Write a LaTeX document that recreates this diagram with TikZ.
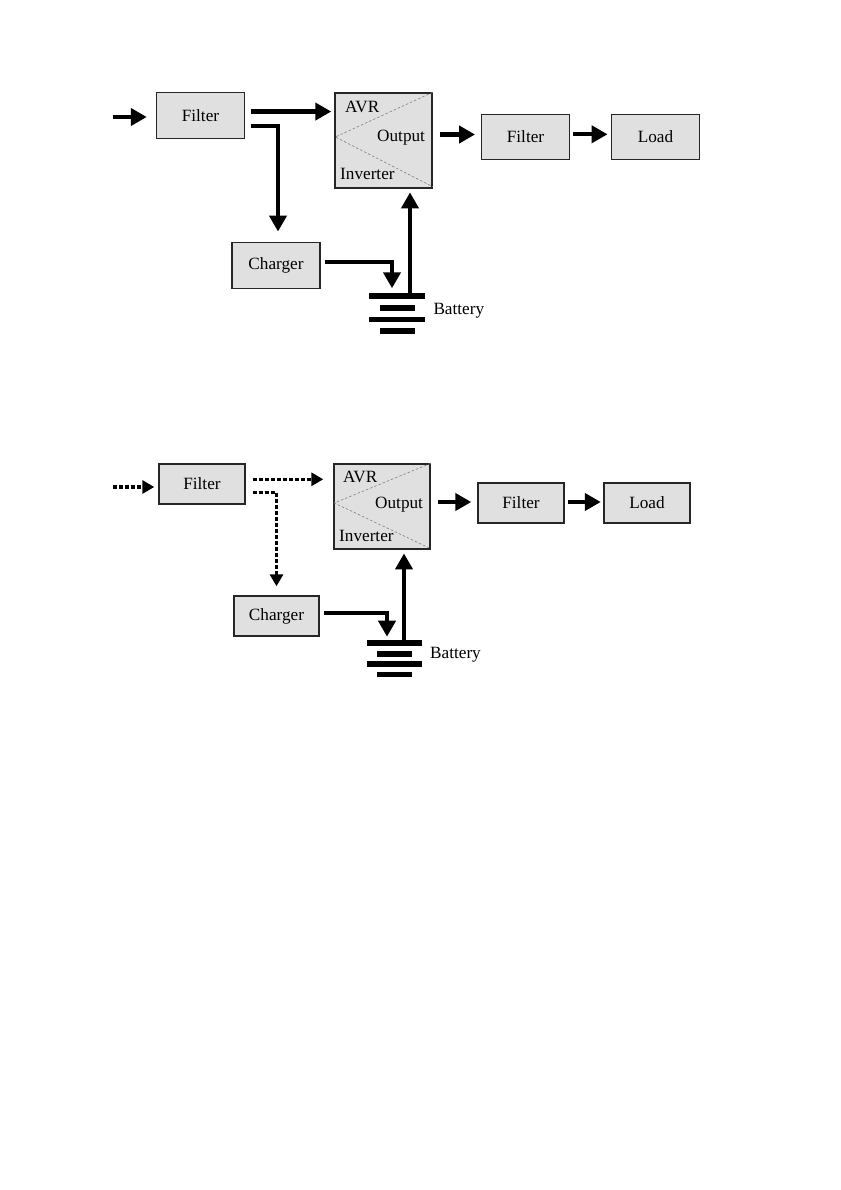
\documentclass[tikz,border=0pt]{standalone}
\usepackage{fontspec}
\setmainfont{Liberation Serif}
\usetikzlibrary{arrows.meta,calc}
\begin{document}
\begin{tikzpicture}[x=1pt,y=-1pt,
  txt/.style={font=\fontsize{17.2}{19}\selectfont},
  box/.style={txt,draw=black!85,line width=1.4pt,fill=black!12,inner sep=0pt},
  lbl/.style={txt,inner sep=0pt,anchor=base west},
  flow/.style={line width=4.2pt,line join=miter,-{Triangle[length=16pt,width=17pt]}},
  dflow/.style={line width=3.3pt,line join=miter,dash pattern=on 4pt off 2pt,-{Triangle[length=12pt,width=13pt]}},
  diagline/.style={gray,dash pattern=on 2.5pt off 2pt,line width=0.6pt},
  plate/.style={fill=black,draw=none}]
\useasboundingbox (0,0) rectangle (840,1190);

% ================= Diagram 1 =================
\node[box,minimum width=88pt,minimum height=45.5pt] (f1) at (200.5,115.5) {Filter};
\node[box,minimum width=97pt,minimum height=95pt] (a1) at (383.5,140.5) {};
\node[box,minimum width=87.5pt,minimum height=45.5pt] (f2) at (525.5,137) {Filter};
\node[box,minimum width=87.5pt,minimum height=45.5pt] (l1) at (655.5,137) {Load};
\node[box,minimum width=88pt,minimum height=45.5pt] (c1) at (276,265.5) {Charger};

\draw[diagline] (a1.north east) -- ($(a1.west)+(1,-3.5)$) -- ($(a1.south east)+(0,-2)$);
\node[lbl] (avr1) at (345,113) {AVR};
\node[lbl] (out1) at (377,142) {Output};
\node[lbl] (inv1) at (340,180) {Inverter};

% battery 1
\fill[plate] (369.3,293.3) rectangle (425,299);
\fill[plate] (380,305) rectangle (415,310.7);
\fill[plate] (369.3,316.7) rectangle (425,322.3);
\fill[plate] (380,328.3) rectangle (415,334.3);
\coordinate (b1in) at (392,293.3);
\coordinate (b1out) at (410,293.3);
\node[lbl] (bl1) at (433.3,314.3) {Battery};

\coordinate (i1) at (113,117);
\draw[flow,shorten >=9pt] (i1) -- (i1 -| f1.west);
\coordinate (s1) at ($(f1.north east)+(5.5,19.5)$);
\draw[flow,shorten >=3pt] (s1) -- (s1 -| a1.west);
\draw[flow,shorten >=10.5pt] ($(f1.north east)+(5.5,34)$) -| ($(c1.north)+(2,0)$);
\draw[flow,shorten >=5pt] ($(c1.east)+(4,-3.5)$) -| (b1in);
\draw[flow,shorten >=3.7pt] (b1out) -- (b1out |- a1.south);
\coordinate (s2) at ($(a1.east |- f2.west)+(7.5,-2.5)$);
\draw[flow,shorten >=6pt] (s2) -- (s2 -| f2.west);
\coordinate (s3) at ($(f2.east)+(3.5,-2.7)$);
\draw[flow,shorten >=3.5pt] (s3) -- (s3 -| l1.west);

% ================= Diagram 2 =================
\node[box,minimum width=86pt,minimum height=40pt] (g1) at (202,484) {Filter};
\node[box,minimum width=96pt,minimum height=85pt] (a2) at (382,506.5) {};
\node[box,minimum width=86pt,minimum height=40pt] (g2) at (521,503) {Filter};
\node[box,minimum width=86pt,minimum height=40pt] (l2) at (647,503) {Load};
\node[box,minimum width=85pt,minimum height=40pt] (c2) at (276.5,616) {Charger};

\draw[diagline] (a2.north east) -- ($(a2.west)+(1,-3.5)$) -- ($(a2.south east)+(-2,-2)$);
\node[lbl] (avr2) at (343,482.3) {AVR};
\node[lbl] (out2) at (375,508) {Output};
\node[lbl] (inv2) at (339,541) {Inverter};

% battery 2
\fill[plate] (367.3,640) rectangle (422.3,645.7);
\fill[plate] (377.3,651) rectangle (412.3,656.7);
\fill[plate] (367.3,661) rectangle (422.3,666.7);
\fill[plate] (377.3,671.7) rectangle (412.3,677.3);
\coordinate (b2in) at (387,640);
\coordinate (b2out) at (404,640);
\node[lbl] (bl2) at (430,658.3) {Battery};

\coordinate (i2) at (113,487);
\draw[dflow,shorten >=4pt] (i2) -- (i2 -| g1.west);
\coordinate (t1) at ($(g1.north east)+(7,16)$);
\draw[dflow,shorten >=10pt] (t1) -- (t1 -| a2.west);
\draw[dflow,shorten >=9pt] ($(g1.north east)+(7,29)$) -| (c2.north);
\draw[flow,line width=4pt,shorten >=3.3pt] ($(c2.east)+(4,-3)$) -| (b2in);
\draw[flow,line width=4pt,shorten >=3.7pt] (b2out) -- (b2out |- a2.south);
\coordinate (t2) at ($(a2.east |- g2.west)+(7,-1)$);
\draw[flow,line width=4pt,shorten >=6pt] (t2) -- (t2 -| g2.west);
\coordinate (t3) at ($(g2.east)+(3,-1)$);
\draw[flow,line width=4pt,shorten >=2.5pt] (t3) -- (t3 -| l2.west);
\end{tikzpicture}
\end{document}
